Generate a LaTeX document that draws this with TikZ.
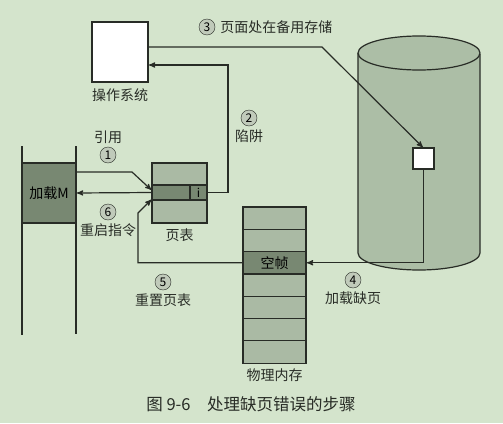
\documentclass[tikz,border=0pt]{standalone}
\usepackage{fontspec}
\setmainfont{Noto Sans CJK SC}
\usetikzlibrary{shapes,arrows,positioning}
\definecolor{paper}{RGB}{212,228,204}
\definecolor{ink}{RGB}{40,44,38}
\definecolor{light}{RGB}{170,186,164}
\definecolor{dark}{RGB}{120,136,114}
\definecolor{cyl}{RGB}{172,190,166}
\definecolor{numfill}{RGB}{192,202,186}
\tikzstyle{every picture}=[x=1pt, y=-1pt, >=stealth', shorten >=1pt,%
	font=\fontsize{14}{16}\selectfont]
\tikzstyle{box}=[draw=ink, line width=1.2pt, inner sep=0pt, outer sep=0pt]
\tikzstyle{num}=[circle, draw=ink, fill=numfill, minimum size=16pt, inner sep=0pt,%
	font=\fontsize{12}{12}\selectfont]
\tikzstyle{lbl}=[inner sep=1pt, text=ink]
\tikzstyle{link}=[draw=ink, line width=1.2pt]

\begin{document}
\begin{tikzpicture}
	\fill[paper] (0,0) rectangle (503,423);
	% operating system
	\node (os) [box, fill=white, minimum width=56, minimum height=60] at (120,52) {};
	\node (osl) [lbl, below=5pt of os] {操作系统};
	% process memory
	\draw[ink, line width=1.2pt] (22,146) -- (22,335) (76,146) -- (76,335);
	\node (M) [box, fill=dark, minimum width=54, minimum height=60] at (49,193) {加载M};
	% page table
	\node (pt1) [box, fill=light, minimum width=55, minimum height=22] at (179.5,174) {};
	\node (pt2) [box, fill=dark, minimum width=38, minimum height=15] at (171,192.5) {};
	\node (pti) [box, fill=dark, minimum width=17, minimum height=15,%
		font=\fontsize{12}{12}\selectfont] at (198.5,192.5) {i};
	\node (pt3) [box, fill=light, minimum width=55, minimum height=23] at (179.5,211.5) {};
	\node (ptl) [lbl, below=5pt of pt3] {页表};
	% physical memory
	\foreach \i in {0,1,3,4,5,6}
		\node (f\i) [box, fill=light, minimum width=63, minimum height=22.3] at (274.5,{218.15+22.3*\i}) {};
	\node (f2) [box, fill=dark, minimum width=63, minimum height=22.3] at (274.5,262.75) {空帧};
	\node (fl) [lbl, below=4pt of f6] {物理内存};
	% backing store
	\draw[box, fill=cyl] (358,53) -- (358,253) arc[start angle=180, end angle=360,%
		x radius=61pt, y radius=17pt] -- (480,53);
	\draw[box, fill=cyl] (419,53) ellipse [x radius=61pt, y radius=17pt];
	\node (pg) [box, fill=white, minimum size=21] at (423.5,158.5) {};
	% steps
	\node (c1) [num] at (108,155) {1};
	\node (t1) [lbl, above=2pt of c1] {引用};
	\node (c2) [num] at (249,118) {2};
	\node (t2) [lbl, below=2pt of c2] {陷阱};
	\node (c3) [num] at (207,27) {3};
	\node (t3) [lbl, right=4pt of c3] {页面处在备用存储};
	\node (c4) [num] at (353,280) {4};
	\node (t4) [lbl, below=2pt of c4] {加载缺页};
	\node (c5) [num] at (163,282) {5};
	\node (t5) [lbl, below=2pt of c5] {重置页表};
	\node (c6) [num] at (108,212) {6};
	\node (t6) [lbl, below=2pt of c6] {重启指令};
	\draw[link, ->] ([yshift=-9pt]M.north east) -- (132,172) -- ([yshift=2pt]pt2.west);
	\draw[link, ->] (pti.east) -| (228,65) -- ([yshift=-13pt]os.east);
	\draw[link, ->] ([yshift=5pt]os.east) -- (322,47) -- (pg.north);
	\draw[link, ->] (pg.south) |- (f2.east);
	\draw[link, ->] (f2.west) -| (138,213) -- ([yshift=1pt]pt2.south west);
	\draw[link, ->] (pt2.west) -- (M.east);
	% caption
	\node (cap) [lbl, font=\fontsize{16.5}{18}\selectfont] at (251,404) {图 9-6\quad 处理缺页错误的步骤};
\end{tikzpicture}
\end{document}
